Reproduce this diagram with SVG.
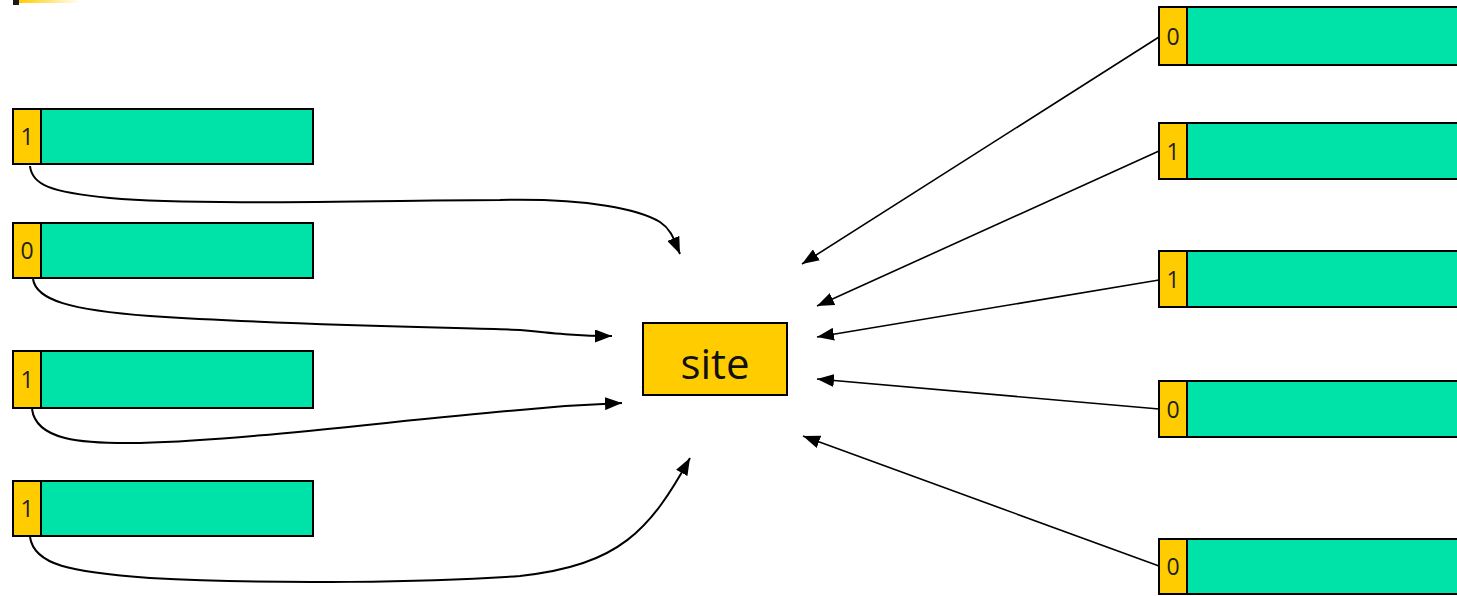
<svg xmlns="http://www.w3.org/2000/svg" width="1457" height="596" viewBox="0 0 1457 596">
  <defs>
    <linearGradient id="bar" x1="0" y1="0" x2="1" y2="0">
      <stop offset="0" stop-color="#FFCC00"/>
      <stop offset="1" stop-color="#FFFFFF"/>
    </linearGradient>
    <marker id="arr" viewBox="0 0 10 10" refX="10" refY="5" markerWidth="17" markerHeight="13" markerUnits="userSpaceOnUse" orient="auto" preserveAspectRatio="none">
      <path d="M0,0 L10,5 L0,10 Z" fill="#000"/>
    </marker>
  </defs>
  <style>
    .flag { fill: #FFCC00; stroke: #000; stroke-width: 2; }
    .body { fill: #00E3A8; stroke: #000; stroke-width: 2; }
    .digit { font-family: "Open Sans", "Noto Sans", sans-serif; font-size: 23px; fill: #222; text-anchor: middle; }
    .site-label { font-family: "Open Sans", "Noto Sans", sans-serif; font-size: 42px; fill: #111; text-anchor: middle; }
    .curve { fill: none; stroke: #000; stroke-width: 2; marker-end: url(#arr); }
    .line { fill: none; stroke: #000; stroke-width: 1.6; marker-end: url(#arr); }
  </style>

  <rect width="1457" height="596" fill="#FFFFFF"/>

  <!-- corner accent -->
  <rect x="13" y="0" width="6" height="5" fill="#1a1a1a"/>
  <rect x="19" y="0" width="62" height="3" fill="url(#bar)"/>

  <!-- central node -->
  <g id="site">
    <rect x="643" y="323" width="144" height="72" class="flag"/>
    <text x="715" y="379" class="site-label">site</text>
  </g>

  <!-- left nodes -->
  <g id="left-1">
    <rect x="41" y="109" width="272" height="55" class="body"/>
    <rect x="13" y="109" width="28" height="55" class="flag"/>
    <text x="27" y="145" class="digit">1</text>
  </g>
  <g id="left-2">
    <rect x="41" y="223" width="272" height="55" class="body"/>
    <rect x="13" y="223" width="28" height="55" class="flag"/>
    <text x="27" y="259" class="digit">0</text>
  </g>
  <g id="left-3">
    <rect x="41" y="351" width="272" height="57" class="body"/>
    <rect x="13" y="351" width="28" height="57" class="flag"/>
    <text x="27" y="388" class="digit">1</text>
  </g>
  <g id="left-4">
    <rect x="41" y="481" width="272" height="55" class="body"/>
    <rect x="13" y="481" width="28" height="55" class="flag"/>
    <text x="27" y="517" class="digit">1</text>
  </g>

  <!-- right nodes (run past the right edge) -->
  <g id="right-1">
    <rect x="1187" y="7" width="280" height="58" class="body"/>
    <rect x="1159" y="7" width="28" height="58" class="flag"/>
    <text x="1173" y="45" class="digit">0</text>
  </g>
  <g id="right-2">
    <rect x="1187" y="123" width="280" height="56" class="body"/>
    <rect x="1159" y="123" width="28" height="56" class="flag"/>
    <text x="1173" y="160" class="digit">1</text>
  </g>
  <g id="right-3">
    <rect x="1187" y="251" width="280" height="56" class="body"/>
    <rect x="1159" y="251" width="28" height="56" class="flag"/>
    <text x="1173" y="288" class="digit">1</text>
  </g>
  <g id="right-4">
    <rect x="1187" y="381" width="280" height="56" class="body"/>
    <rect x="1159" y="381" width="28" height="56" class="flag"/>
    <text x="1173" y="418" class="digit">0</text>
  </g>
  <g id="right-5">
    <rect x="1187" y="539" width="280" height="55" class="body"/>
    <rect x="1159" y="539" width="28" height="55" class="flag"/>
    <text x="1173" y="575" class="digit">0</text>
  </g>

  <!-- connectors -->
  <g id="connectors">
    <path class="curve" d="M30,166 C32,185 50,192 110,198 C200,206 400,200 500,200 C590,198 640,210 660,222 C672,230 674,240 680,254"/>
    <path class="curve" d="M33,279 C36,300 70,310 150,316 C300,326 480,328 520,330 C560,334 580,336 612,336"/>
    <path class="curve" d="M32,409 C36,440 80,444 140,443 C250,440 400,420 520,410 C570,405 595,404 622,403"/>
    <path class="curve" d="M30,537 C34,565 70,572 150,578 C280,585 430,582 520,576 C620,565 650,530 690,458"/>

    <line class="line" x1="1159" y1="37" x2="802" y2="264"/>
    <line class="line" x1="1159" y1="151" x2="817" y2="306"/>
    <line class="line" x1="1159" y1="280" x2="817" y2="337"/>
    <line class="line" x1="1159" y1="409" x2="817" y2="379"/>
    <line class="line" x1="1159" y1="566" x2="803" y2="436"/>
  </g>
</svg>
